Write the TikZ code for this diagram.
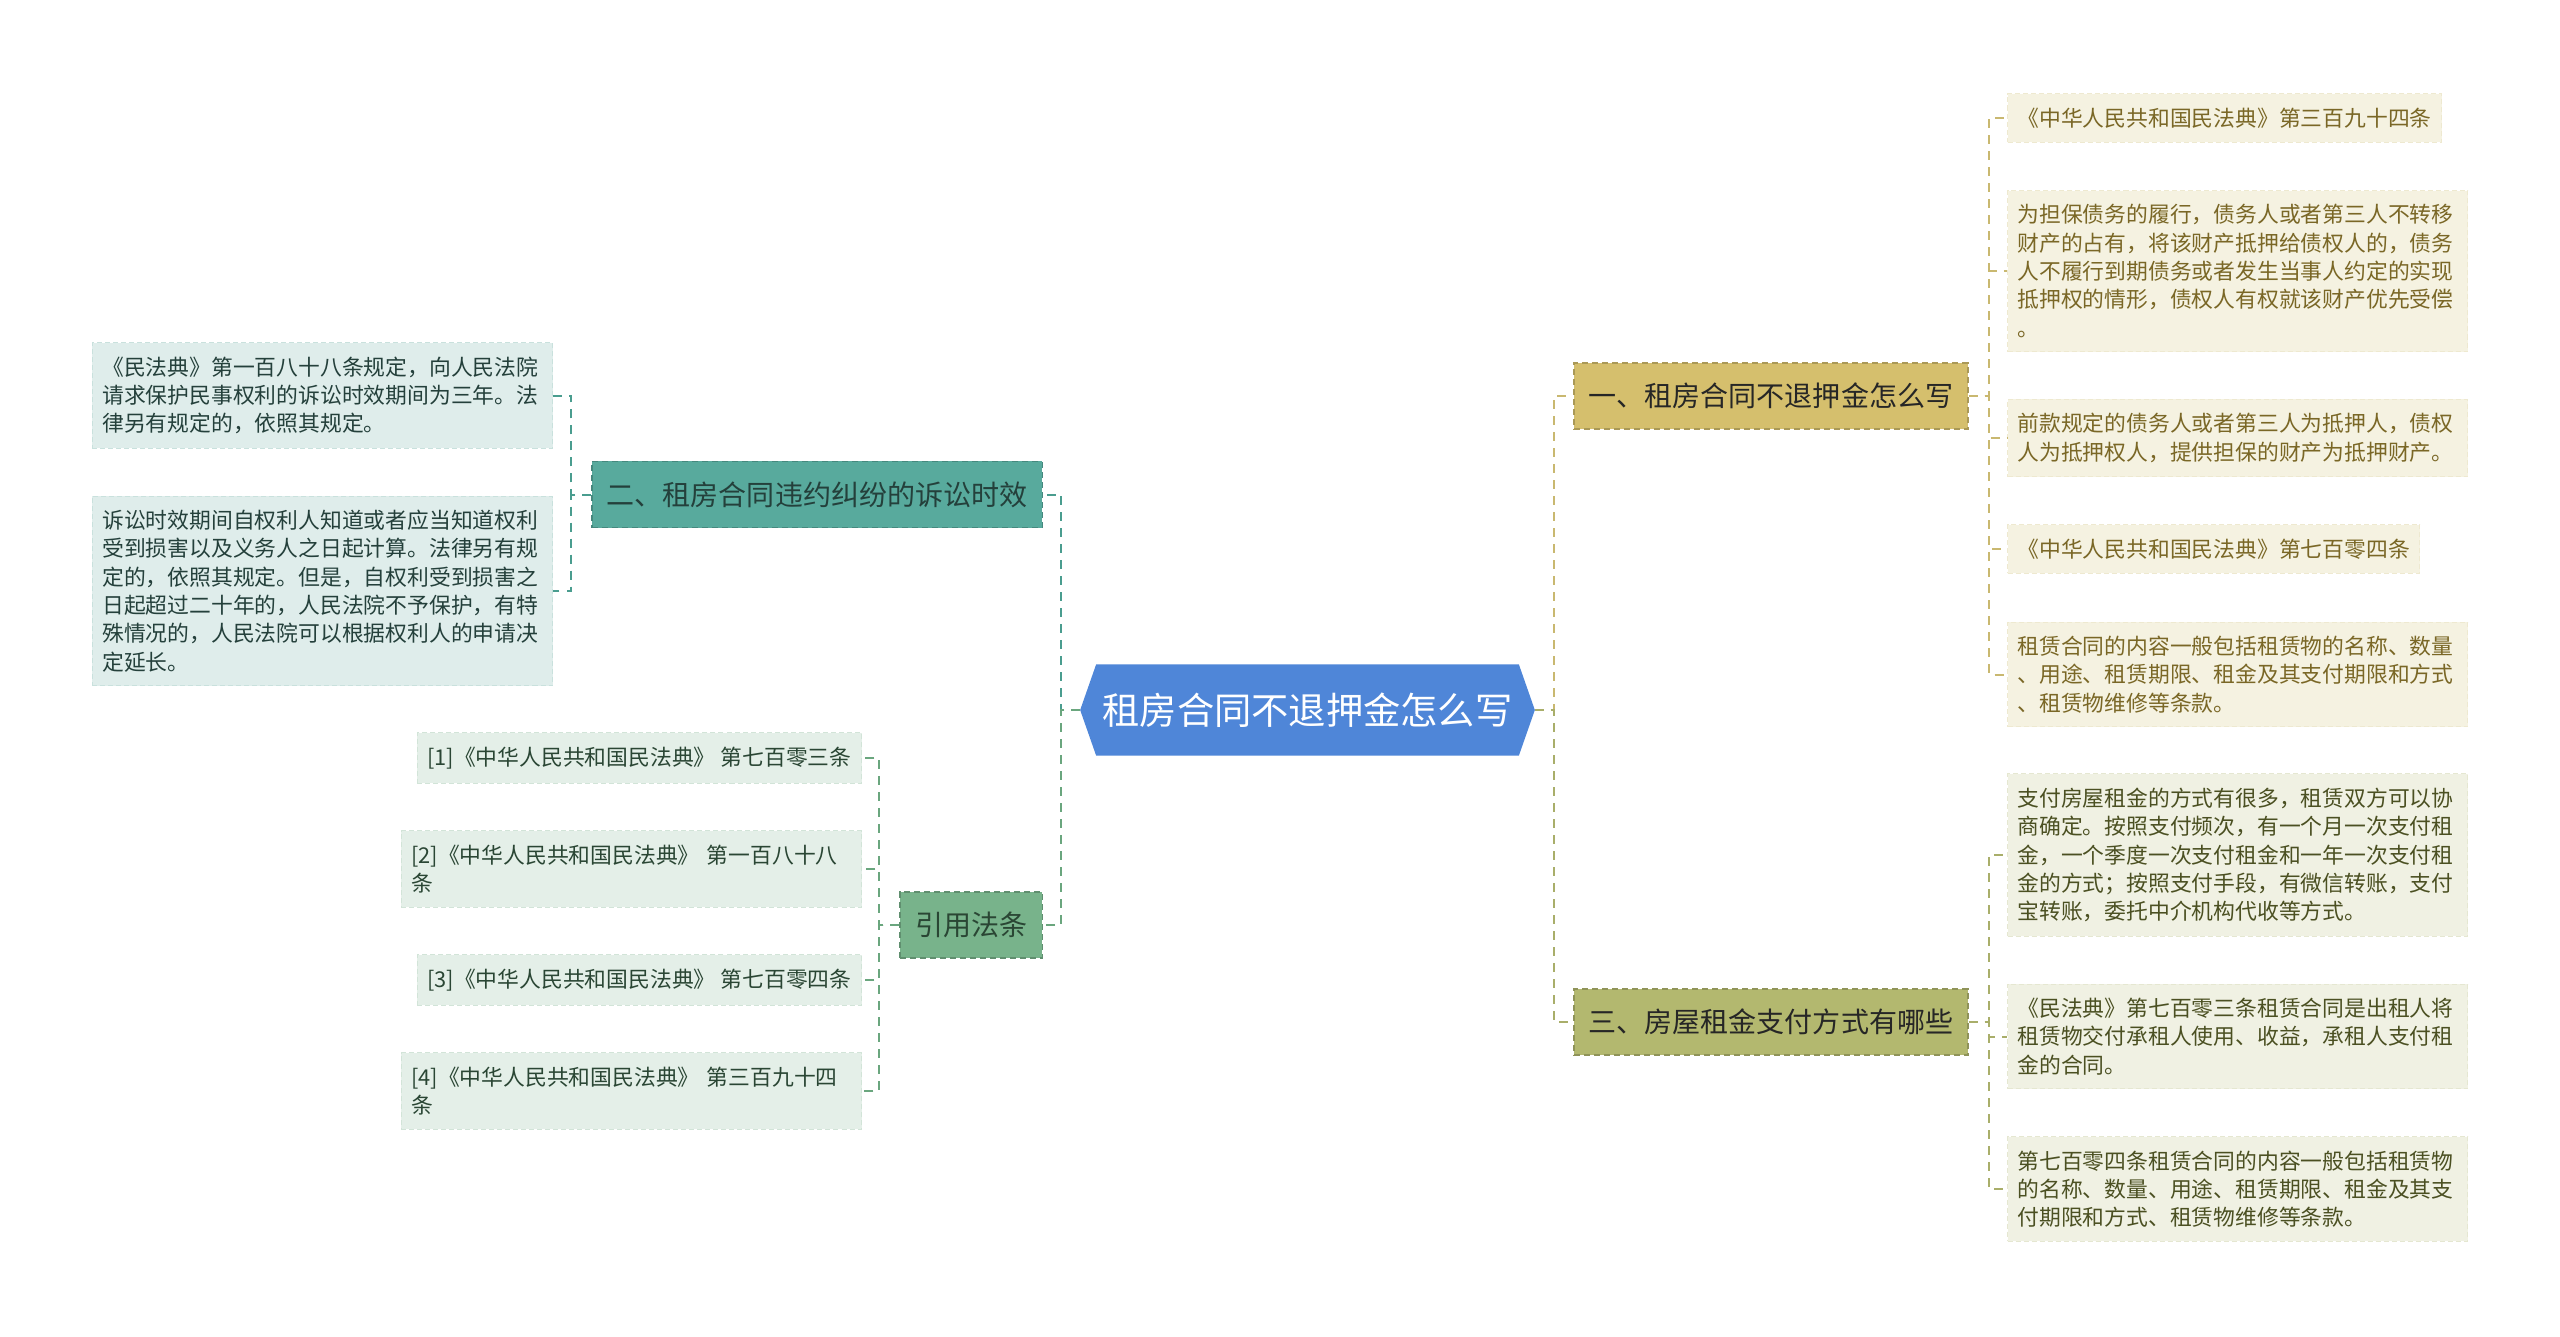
\documentclass[tikz,border=0pt]{standalone}
\usepackage{fontspec}
\setmainfont{Noto Sans CJK SC}
\usetikzlibrary{backgrounds}

\definecolor{rootblue}{HTML}{4F86D8}
\definecolor{goldbox}{HTML}{D5BF6D}
\definecolor{goldline}{HTML}{C9B870}
\definecolor{goldleaf}{HTML}{F5F2E1}
\definecolor{goldtext}{HTML}{7A6726}
\definecolor{olivebox}{HTML}{B3B86F}
\definecolor{oliveline}{HTML}{A9AE6A}
\definecolor{oliveleaf}{HTML}{F0F1E3}
\definecolor{olivetext}{HTML}{4B5022}
\definecolor{tealbox}{HTML}{58AA9D}
\definecolor{tealline}{HTML}{4A9D8F}
\definecolor{tealleaf}{HTML}{DFEDEB}
\definecolor{tealtext}{HTML}{24403B}
\definecolor{greenbox}{HTML}{78B38B}
\definecolor{greenline}{HTML}{6AA67E}
\definecolor{greenleaf}{HTML}{E4EFE8}
\definecolor{greentext}{HTML}{2A4634}

\tikzset{
  link/.style={dash pattern=on 0.09cm off 0.07cm, line width=0.02cm},
  branch/.style={draw, dash pattern=on 0.06cm off 0.04cm, line width=0.015cm,
    inner xsep=0.15cm, inner ysep=0cm, minimum height=0.66cm,
    font=\fontsize{7.97pt}{9.6pt}\selectfont},
  leaf/.style={draw, dash pattern=on 0.05cm off 0.03cm, line width=0.01cm,
    inner xsep=0.1cm, inner ysep=0.14cm, align=left,
    font=\fontsize{6.2pt}{8.05pt}\selectfont},
  wide/.style={text width=4.4cm},
  goldleafbox/.style={leaf, fill=goldleaf, draw=goldleaf!85!goldline, text=goldtext},
  oliveleafbox/.style={leaf, fill=oliveleaf, draw=oliveleaf!85!oliveline, text=olivetext},
  tealleafbox/.style={leaf, fill=tealleaf, draw=tealleaf!85!tealline, text=tealtext},
  greenleafbox/.style={leaf, fill=greenleaf, draw=greenleaf!85!greenline, text=greentext},
}

\begin{document}
\begin{tikzpicture}[x=0.01cm, y=-0.01cm]
\useasboundingbox (0,0) rectangle (2560,1336);

% centre
\node (root) at (1307.5,710) [text=white, inner sep=0, minimum width=4.21cm, minimum height=0.9cm,
  font=\fontsize{10.6pt}{13pt}\selectfont] {租房合同不退押金怎么写};
\coordinate (rootL) at ([xshift=-0.16cm]root.west);
\coordinate (rootR) at ([xshift=0.16cm]root.east);
\begin{scope}[on background layer]
  \fill[white] (0,0) rectangle (2560,1336);
  \fill[rootblue] (rootL) -- (root.north west) -- (root.north east) -- (rootR)
    -- (root.south east) -- (root.south west) -- cycle;
\end{scope}

% branches
\node (b1) at (1573,396) [branch, anchor=west, fill=goldbox, draw=goldbox!80!black, text=black!85] {一、租房合同不退押金怎么写};
\node (b3) at (1573,1022) [branch, anchor=west, fill=olivebox, draw=olivebox!80!black, text=black!85] {三、房屋租金支付方式有哪些};
\node (b2) at (1043,494.5) [branch, anchor=east, fill=tealbox, draw=tealbox!80!black, text=tealtext] {二、租房合同违约纠纷的诉讼时效};
\node (b4) at (1043,925) [branch, anchor=east, fill=greenbox, draw=greenbox!80!black, text=greentext] {引用法条};

% leaves of b1
\node (r1) at (2007,118) [goldleafbox, anchor=west] {《中华人民共和国民法典》第三百九十四条};
\node (r2) at (2007,271) [goldleafbox, wide, anchor=west] {为担保债务的履行，债务人或者第三人不转移\\财产的占有，将该财产抵押给债权人的，债务\\人不履行到期债务或者发生当事人约定的实现\\抵押权的情形，债权人有权就该财产优先受偿\\。};
\node (r3) at (2007,438) [goldleafbox, wide, anchor=west] {前款规定的债务人或者第三人为抵押人，债权\\人为抵押权人，提供担保的财产为抵押财产。};
\node (r4) at (2007,549) [goldleafbox, anchor=west] {《中华人民共和国民法典》第七百零四条};
\node (r5) at (2007,674.5) [goldleafbox, wide, anchor=west] {租赁合同的内容一般包括租赁物的名称、数量\\、用途、租赁期限、租金及其支付期限和方式\\、租赁物维修等条款。};

% leaves of b3
\node (m1) at (2007,855) [oliveleafbox, wide, anchor=west] {支付房屋租金的方式有很多，租赁双方可以协\\商确定。按照支付频次，有一个月一次支付租\\金，一个季度一次支付租金和一年一次支付租\\金的方式；按照支付手段，有微信转账，支付\\宝转账，委托中介机构代收等方式。};
\node (m2) at (2007,1036.5) [oliveleafbox, wide, anchor=west] {《民法典》第七百零三条租赁合同是出租人将\\租赁物交付承租人使用、收益，承租人支付租\\金的合同。};
\node (m3) at (2007,1189) [oliveleafbox, wide, anchor=west] {第七百零四条租赁合同的内容一般包括租赁物\\的名称、数量、用途、租赁期限、租金及其支\\付期限和方式、租赁物维修等条款。};

% leaves of b2
\node (s1) at (553,395.5) [tealleafbox, wide, anchor=east] {《民法典》第一百八十八条规定，向人民法院\\请求保护民事权利的诉讼时效期间为三年。法\\律另有规定的，依照其规定。};
\node (s2) at (553,591) [tealleafbox, wide, anchor=east] {诉讼时效期间自权利人知道或者应当知道权利\\受到损害以及义务人之日起计算。法律另有规\\定的，依照其规定。但是，自权利受到损害之\\日起超过二十年的，人民法院不予保护，有特\\殊情况的，人民法院可以根据权利人的申请决\\定延长。};

% leaves of b4
\node (c1) at (862,758) [greenleafbox, anchor=east] {[1]《中华人民共和国民法典》 第七百零三条};
\node (c2) at (862,869) [greenleafbox, wide, anchor=east] {[2]《中华人民共和国民法典》 第一百八十八\\条};
\node (c3) at (862,980) [greenleafbox, anchor=east] {[3]《中华人民共和国民法典》 第七百零四条};
\node (c4) at (862,1091) [greenleafbox, wide, anchor=east] {[4]《中华人民共和国民法典》 第三百九十四\\条};

% connectors
\draw[link, tealline] (rootL) -- ++(-19,0) |- (b2.east);
\draw[link, greenline] (rootL) -- ++(-19,0) |- (b4.east);
\draw[link, goldline] (rootR) -- ++(19,0) |- (b1.west);
\draw[link, oliveline] (rootR) -- ++(19,0) |- (b3.west);
\foreach \n in {1,...,5} \draw[link, goldline] (b1.east) -- ++(20,0) |- (r\n.west);
\foreach \n in {1,2,3} \draw[link, oliveline] (b3.east) -- ++(20,0) |- (m\n.west);
\foreach \n in {1,2} \draw[link, tealline] (b2.west) -- ++(-20,0) |- (s\n.east);
\foreach \n in {1,...,4} \draw[link, greenline] (b4.west) -- ++(-20,0) |- (c\n.east);
\end{tikzpicture}
\end{document}
